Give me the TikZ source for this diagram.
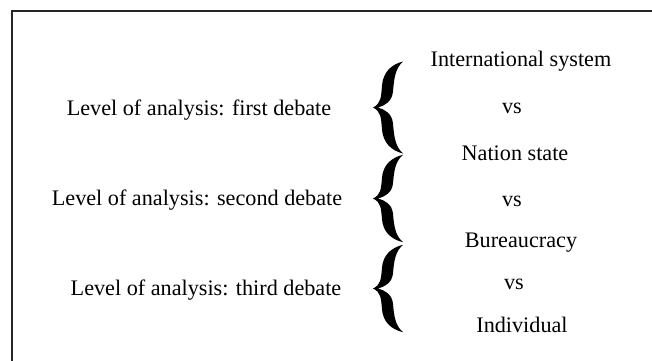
\documentclass[tikz,border=0pt]{standalone}
\usepackage{fontspec}
\setmainfont{Liberation Serif}
\begin{document}
\begin{tikzpicture}[x=1bp,y=-1bp,
  lbl/.style={anchor=base,inner sep=0pt,font=\fontsize{22.2bp}{26bp}\selectfont},
  lbrace/.pic={
    \fill[black] (30,-46) .. controls (18,-43) and (10,-35) .. (9,-22)
      .. controls (8,-10) and (8,-4) .. (0,0)
      .. controls (8,4) and (8,10) .. (9,22)
      .. controls (10,35) and (18,43) .. (30,46)
      .. controls (22,39) and (21,28) .. (20,16)
      .. controls (19,6) and (12,2) .. (5,0)
      .. controls (12,-2) and (19,-6) .. (20,-16)
      .. controls (21,-28) and (22,-39) .. (30,-46) -- cycle;
  }]
\useasboundingbox (0,0) rectangle (652,360);
\clip (0,0) rectangle (652,360);
\fill[white] (0,0) rectangle (652,360);
\draw[line width=2bp,black!85] (12,380) -- (12,10.5) -- (680,10.5);
% right column
\node[lbl] (intl) at (521,66) {International system};
\node[lbl] (vs1) at (512,113) {vs};
\node[lbl] (nation) at (515,160) {Nation state};
\node[lbl] (vs2) at (512,206) {vs};
\node[lbl] (bur) at (521,247) {Bureaucracy};
\node[lbl] (vs3) at (514,289) {vs};
\node[lbl] (indiv) at (522,332) {Individual};
% left column
\node[lbl] (d1) at (199,115) {Level of analysis: first debate};
\node[lbl] (d2) at (197,205) {Level of analysis: second debate};
\node[lbl] (d3) at (206,295) {Level of analysis: third debate};
% braces
\pic at (373,107.5) {lbrace};
\pic[yscale=0.95] at (373,198.5) {lbrace};
\pic[yscale=0.95] at (373,288.5) {lbrace};
\end{tikzpicture}
\end{document}
